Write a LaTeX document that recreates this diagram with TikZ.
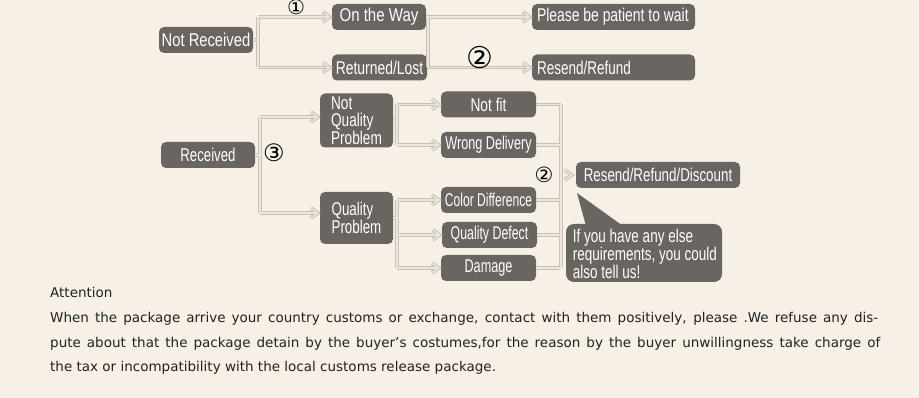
\documentclass[tikz,border=0pt]{standalone}
\usepackage{fontspec}
\setmainfont{DejaVu Sans}
\newfontfamily\bfA[FakeStretch=0.76]{Liberation Sans}
\newfontfamily\circfont{DejaVu Sans}
\definecolor{bgC}{HTML}{F6F0E6}
\definecolor{boxC}{HTML}{6B6561}
\definecolor{pipeO}{HTML}{C9C1B6}
\definecolor{pipeI}{HTML}{ECE6DC}
\definecolor{txtC}{HTML}{222222}
\tikzset{
  box/.style={fill=boxC, rounded corners=5pt, text=white, inner sep=0pt,
    font=\bfA\fontsize{18.5}{17}\selectfont},
  pipeOut/.style={draw=pipeO, line width=3.6pt, line join=miter},
  pipeIn/.style={draw=pipeI, line width=1.4pt, line join=miter},
  para/.style={anchor=base west, inner sep=0pt, text=txtC, font=\fontsize{13.5}{16}\selectfont},
  num/.style={inner sep=0pt, text=black}
}
\newcommand\sx[2]{\scalebox{#1}[1]{#2}}
% chevron ending #3 left of a point
\newcommand\chevat[3]{\draw[#1] ([xshift=-#3-7pt,yshift=5pt]#2) -- ([xshift=-#3]#2) -- ([xshift=-#3-7pt,yshift=-5pt]#2);}
\begin{document}
\begin{tikzpicture}[x=1pt,y=-1pt]
\path[fill=bgC] (0,0) rectangle (919,398);
\useasboundingbox (0,0) rectangle (919,398);

% nodes
\node[box, minimum width=94, minimum height=26] (nr) at (206,40) {\sx{1.05}{Not Received}};
\node[box, minimum width=94, minimum height=26] (otw) at (379,17) {\sx{1.07}{On the Way}};
\node[box, minimum width=95, minimum height=26] (rl) at (379.5,67.5) {\sx{0.99}{Returned/Lost}};
\node[box, minimum width=163, minimum height=26] (wait) at (613.5,17) {\makebox[153pt][l]{\sx{0.99}{Please be patient to wait}}};
\node[box, minimum width=163, minimum height=26] (rr) at (613.5,67.5) {\makebox[153pt][l]{\sx{0.96}{Resend/Refund}}};

\node[box, minimum width=94, minimum height=26] (rec) at (208,155) {\sx{0.94}{Received}};
\node[box, minimum width=73, minimum height=54, align=left] (nqp) at (356.5,120.5) {\sx{0.97}{Not}\\\sx{0.97}{Quality}\\\sx{0.97}{Problem}};
\node[box, minimum width=73, minimum height=52, align=left, font=\bfA\fontsize{18.5}{16}\selectfont] (qp) at (356.5,218) {\sx{0.95}{Quality}\\\sx{0.95}{Problem}};

\node[box, minimum width=95, minimum height=26] (nf) at (488.5,104.5) {\sx{0.98}{Not fit}};
\node[box, minimum width=95, minimum height=26] (wd) at (488.5,145) {\sx{0.90}{Wrong Delivery}};
\node[box, minimum width=95, minimum height=26] (cd) at (488.5,200) {\sx{0.86}{Color Difference}};
\node[box, minimum width=95, minimum height=26] (qd) at (489.5,235) {\sx{0.88}{Quality Defect}};
\node[box, minimum width=95, minimum height=26] (dm) at (488.5,268) {\sx{0.90}{Damage}};

\node[box, minimum width=164, minimum height=26] (rrd) at (658,175) {\sx{0.95}{Resend/Refund/Discount}};

% callout
\fill[boxC] (577,193) -- (586,226) -- (623,226) -- cycle;
\node[box, minimum width=156, minimum height=58, rounded corners=8pt] (call) at (644,253) {};
\node[inner sep=0pt, text=white, align=left, font=\bfA\fontsize{18.5}{17}\selectfont] (calltxt) at (645,254)
  {\sx{0.96}{If you have any else}\\\sx{0.96}{requirements, you could}\\\sx{0.96}{also tell us!}};

% trunk coordinates and entry points
\coordinate (t1) at (258,40);
\coordinate (t2) at (428,40);
\coordinate (t3) at (260,155);
\coordinate (t4) at (397,120);
\coordinate (t5) at (397,218);
\coordinate (t6) at (561,175);
\coordinate (nqpin) at ([yshift=3.5pt]nqp.west);
\coordinate (qpin) at ([yshift=5pt]qp.west);

\newcommand\conpaths[1]{%
  % Not Received
  \draw[#1] (nr.east) -- (t1);
  \draw[#1] (t1 |- otw) -- (t1 |- rl);
  \draw[#1] (t1 |- otw) -- ([xshift=-2pt]otw.west);
  \draw[#1] (t1 |- rl) -- ([xshift=-2pt]rl.west);
  \chevat{#1}{otw.west}{2pt}
  \chevat{#1}{rl.west}{2pt}
  % On the way / Returned
  \draw[#1] (otw.east) -- (t2 |- otw);
  \draw[#1] (rl.east) -- (t2 |- rl);
  \draw[#1] (t2 |- otw) -- (t2 |- rl);
  \draw[#1] (t2 |- wait) -- ([xshift=-2pt]wait.west);
  \draw[#1] (t2 |- rr) -- ([xshift=-2pt]rr.west);
  \chevat{#1}{wait.west}{2pt}
  \chevat{#1}{rr.west}{2pt}
  % Received
  \draw[#1] (rec.east) -- (t3);
  \draw[#1] (t3 |- nqpin) -- (t3 |- qpin);
  \draw[#1] (t3 |- nqpin) -- ([xshift=-2pt]nqpin);
  \draw[#1] (t3 |- qpin) -- ([xshift=-2pt]qpin);
  \chevat{#1}{nqpin}{2pt}
  \chevat{#1}{qpin}{2pt}
  % Not quality problem
  \draw[#1] (nqp.east) -- (t4);
  \draw[#1] (t4 |- nf) -- (t4 |- wd);
  \draw[#1] (t4 |- nf) -- ([xshift=-2pt]nf.west);
  \draw[#1] (t4 |- wd) -- ([xshift=-2pt]wd.west);
  \chevat{#1}{nf.west}{2pt}
  \chevat{#1}{wd.west}{2pt}
  % Quality problem
  \draw[#1] (qp.east) -- (t5);
  \draw[#1] (t5 |- cd) -- (t5 |- dm);
  \draw[#1] (t5 |- cd) -- ([xshift=-2pt]cd.west);
  \draw[#1] (t5 |- qd) -- ([xshift=-2pt]qd.west);
  \draw[#1] (t5 |- dm) -- ([xshift=-2pt]dm.west);
  \chevat{#1}{cd.west}{2pt}
  \chevat{#1}{qd.west}{2pt}
  \chevat{#1}{dm.west}{2pt}
  % collector
  \draw[#1] (t6 |- nf) -- (t6 |- dm);
  \draw[#1] (nf.east) -- (t6 |- nf);
  \draw[#1] (wd.east) -- (t6 |- wd);
  \draw[#1] (cd.east) -- (t6 |- cd);
  \draw[#1] (qd.east) -- (t6 |- qd);
  \draw[#1] (dm.east) -- (t6 |- dm);
  \chevat{#1}{rrd.west}{4pt}
}
\conpaths{pipeOut}
\conpaths{pipeIn}

% numbers
\node[num, font=\circfont\fontsize{20}{20}\selectfont] (n1) at (296,7.5) {①};
\node[num, font=\circfont\fontsize{30}{30}\selectfont] (n2a) at (480,58) {②};
\node[num, font=\circfont\fontsize{24}{24}\selectfont] (n3) at (274,153) {③};
\node[num, font=\circfont\fontsize{21}{21}\selectfont] (n2b) at (544,175) {②};

% paragraph
\node[para] (att) at (50,298) {Attention};
\node[para] (l1) at (50,322.5) {\makebox[828pt][s]{When the package arrive your country customs or exchange, contact with them positively, please .We refuse any dis-}};
\node[para] (l2) at (50,347) {\makebox[830pt][s]{pute about that the package detain by the buyer’s costumes,for the reason by the buyer unwillingness take charge of}};
\node[para] (l3) at (50,371) {the tax or incompatibility with the local customs release package.};
\end{tikzpicture}
\end{document}
